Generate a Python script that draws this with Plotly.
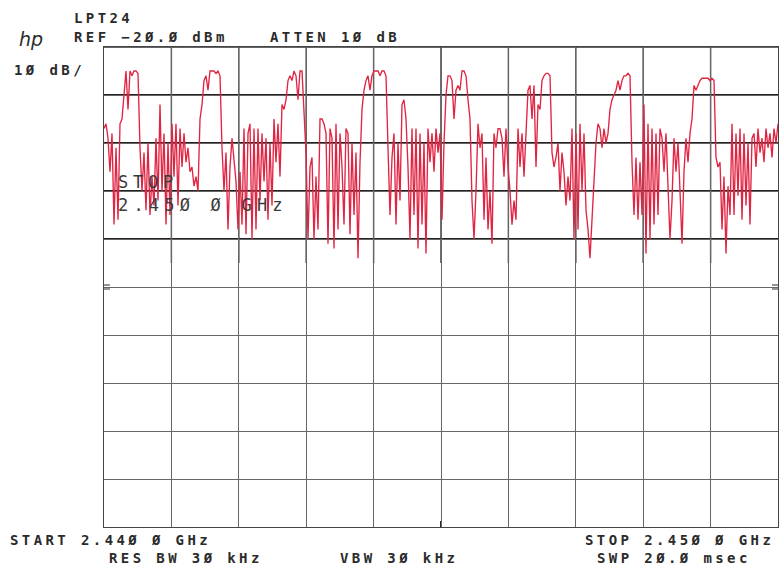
import numpy as np
import plotly.graph_objects as go

# ---- data ----
start_ghz = 2.440
stop_ghz = 2.450
ref_dbm = -20.0
db_per_div = 10.0
n_div = 10

trace_dbm = [
    -37, -36, -39, -46, -38,
    -57, -41, -56,
    -36, -35,
    -30, -25,
    -33,
    -25, -26, -25, -25, -25.5,
    -41,
    -50, -42, -54, -40, -55, -47, -53, -39, -52,
    -32,
    -50, -38, -57, -40, -55,
    -36, -47, -36, -53, -37, -45,
    -38, -44, -41, -46,
    -45, -49, -47, -50,
    -35,
    -32, -27, -26,
    -29,
    -25, -25, -25, -25.5, -25, -26,
    -41,
    -50, -42, -58, -45,
    -39, -44,
    -48, -58, -46, -57,
    -37, -59, -38,
    -36, -60, -37, -58,
    -37, -52, -38, -48,
    -39, -56, -40, -53,
    -35, -44, -36, -47,
    -32, -33, -31,
    -27, -26, -27,
    -25, -26,
    -31,
    -25, -25,
    -35,
    -42, -60, -45,
    -43, -60, -47, -58,
    -35, -35,
    -36, -38, -61, -37, -39, -62, -36, -58, -38,
    -45, -57, -37,
    -38, -59, -40, -55, -42, -64,
    -44, -33, -29, -27,
    -26, -29, -26,
    -25, -25, -25, -26, -25, -25, -26,
    -41, -55, -43,
    -38, -57, -40, -52,
    -32, -31, -35,
    -45, -60, -37, -55,
    -37, -62, -38, -57, -40, -63,
    -37, -44, -38, -46, -37, -42,
    -38, -56, -40,
    -30,
    -26, -26, -27,
    -35, -29,
    -28, -29,
    -25, -25, -26,
    -31, -35,
    -52, -60, -50,
    -36, -41, -38,
    -56, -43,
    -58, -50, -61,
    -38, -41, -37,
    -37, -39, -47, -37, -45,
    -50, -57, -52, -56,
    -37, -45, -38, -47,
    -36, -29,
    -28, -35, -28, -45,
    -32, -33, -27,
    -26, -25.5, -25.5, -26,
    -42, -45, -43,
    -40, -50, -42,
    -46, -53, -47, -52,
    -37, -60, -38, -58,
    -36, -50, -38, -54,
    -58, -64, -55,
    -47, -40, -36,
    -37, -41, -37, -40, -38,
    -33, -31, -30, -29,
    -27, -29, -27,
    -26, -26, -25.5, -26,
    -44, -55,
    -43, -56, -44, -55,
    -32, -63, -36, -60,
    -37, -57, -38, -55,
    -37, -39, -46, -38,
    -50, -60, -52,
    -39, -46, -40,
    -50, -61,
    -46, -39, -44, -38, -35,
    -28, -29, -28, -27,
    -26.5, -26.5, -26.5, -26.5, -27, -26.5, -27,
    -43, -45,
    -44, -58, -47, -63, -49, -55,
    -36, -55, -38, -51,
    -37, -56, -38, -53, -40, -57, -39,
    -38, -45, -37, -42, -39, -44, -37, -41, -38, -43, -37, -40, -36,
]

header_texts = {
    "id": "LPT24",
    "ref": "REF −2Ø.Ø dBm",
    "atten": "ATTEN 1Ø dB",
    "scale": "1Ø dB/",
    "start": "START 2.44Ø Ø GHz",
    "stop": "STOP 2.45Ø Ø GHz",
    "rbw": "RES BW 3Ø kHz",
    "vbw": "VBW 3Ø kHz",
    "swp": "SWP 2Ø.Ø msec",
}

freqs = np.linspace(start_ghz, stop_ghz, len(trace_dbm))

RED = "rgb(226,36,66)"
INK = "#2b2b2b"
FONT = "DejaVu Sans Mono"

fig = go.Figure()
fig.add_trace(go.Scatter(
    x=freqs, y=trace_dbm, mode="lines",
    line=dict(color=RED, width=1.35),
    hoverinfo="skip", showlegend=False,
))

y_bottom = ref_dbm - db_per_div * n_div
fstep = (stop_ghz - start_ghz) / n_div
fig.update_xaxes(
    range=[start_ghz, stop_ghz], dtick=fstep, tick0=start_ghz,
    showgrid=True, gridcolor="#666666", gridwidth=1,
    showline=True, mirror=True, linecolor="#444444", linewidth=1,
    showticklabels=False, ticks="", zeroline=False, fixedrange=True,
)
fig.update_yaxes(
    range=[y_bottom, ref_dbm], dtick=db_per_div, tick0=y_bottom,
    showgrid=True, gridcolor="#666666", gridwidth=1,
    showline=True, mirror=True, linecolor="#444444", linewidth=1,
    showticklabels=False, ticks="", zeroline=False, fixedrange=True,
)

def spaced(s, ls):
    return f'<span style="letter-spacing:{ls}px">{s}</span>'

def txt(s, x, y, size=14, ls=3.4, anchor="left", color=INK, weight="bold"):
    fig.add_annotation(
        text=spaced(s, ls), x=x, y=y, xref="paper", yref="paper",
        xanchor=anchor, yanchor="middle", showarrow=False,
        font=dict(family=FONT, size=size, color=color, weight=weight),
    )

W, H = 779, 567
L, R, T, B = 104, 1, 47, 40
pw, ph = W - L - R, H - T - B

def px(x):
    return (x - L) / pw

def py(y):
    return 1 - (y - T) / ph

txt(header_texts["id"], px(72), py(18))
txt(header_texts["ref"], px(72), py(37))
txt(header_texts["atten"], px(268), py(37))
txt(header_texts["scale"], px(12), py(70))
txt(header_texts["start"], px(8), py(540))
txt(header_texts["rbw"], px(107), py(558))
txt(header_texts["vbw"], px(338), py(558))
txt(header_texts["stop"], px(583), py(540))
txt(header_texts["swp"], px(595), py(558))

# overlay text inside the graticule
txt("STOP", px(116), py(182), size=17, ls=4.8, color="#3a3a3a", weight="normal")
txt("2.45Ø Ø GHz", px(116), py(205), size=17, ls=5.2, color="#3a3a3a", weight="normal")

# hp logo
fig.add_annotation(
    text="<i>hp</i>", x=px(17), y=py(39), xref="paper", yref="paper",
    xanchor="left", yanchor="middle", showarrow=False,
    font=dict(family="DejaVu Sans", size=19, color=INK),
)

shapes = []
# darker graticule lines in the upper (trace) part, as in the print
for k in range(1, 5):
    yv = ref_dbm - k * db_per_div
    shapes.append(dict(type="line", xref="x", yref="y",
                       x0=start_ghz, x1=stop_ghz, y0=yv, y1=yv,
                       line=dict(color="#222222", width=2)))
for k in range(1, n_div):
    xv = start_ghz + k * fstep
    shapes.append(dict(type="line", xref="x", yref="y",
                       x0=xv, x1=xv, y0=ref_dbm, y1=ref_dbm - 4.5 * db_per_div,
                       line=dict(color="#333333", width=1.4)))
shapes.append(dict(type="line", xref="x", yref="y",
                   x0=start_ghz, x1=stop_ghz, y0=ref_dbm, y1=ref_dbm,
                   line=dict(color="#333333", width=1.5)))
# small reference marks at mid screen and centre bottom
for xe, d in ((0, 1), (1, -1)):
    for dy in (-2, 2):
        shapes.append(dict(type="line", xref="paper", yref="paper",
                           x0=xe, x1=xe + d * 6 / pw, y0=py(287 + dy), y1=py(287 + dy),
                           line=dict(color=INK, width=1)))
shapes.append(dict(type="line", xref="paper", yref="paper",
                   x0=0.5, x1=0.5, y0=0, y1=6 / ph, line=dict(color=INK, width=2)))
for s in shapes:
    s["layer"] = "below"
fig.update_layout(shapes=shapes)

fig.update_layout(
    width=W, height=H,
    margin=dict(l=L, r=R, t=T, b=B),
    paper_bgcolor="white", plot_bgcolor="white",
    showlegend=False,
)

fig.write_html("out.html")
